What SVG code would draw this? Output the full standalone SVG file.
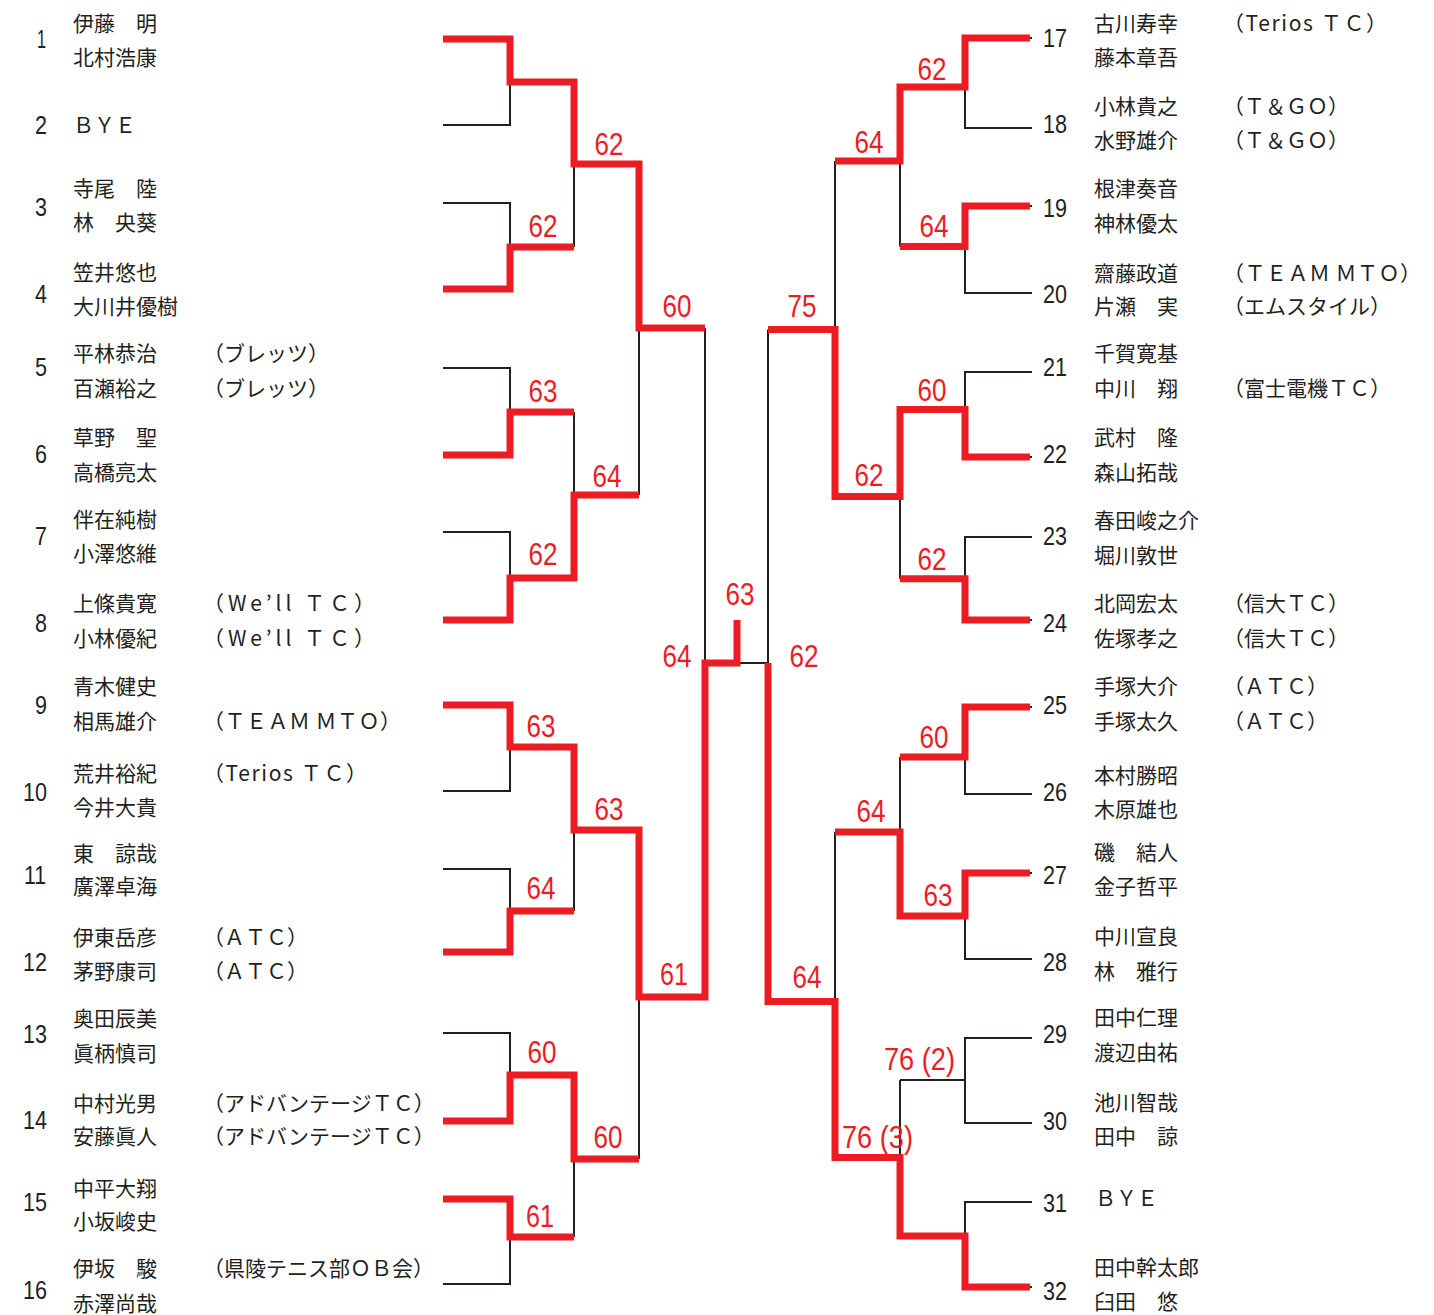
<svg xmlns="http://www.w3.org/2000/svg" width="1434" height="1315" viewBox="0 0 1434 1315">
<style>
.n{font-family:"Liberation Sans Narrow","Arial Narrow","Liberation Sans",sans-serif;font-size:26px;fill:#231f20}
.nl{text-anchor:end}
.nm{font-family:"Noto Sans CJK JP","Noto Sans CJK SC",sans-serif;font-size:21px;fill:#231f20}
.sc{font-family:"Liberation Sans Narrow","Arial Narrow","Liberation Sans",sans-serif;font-size:32px;fill:#ec1c24;text-anchor:middle}
.bk{fill:none;stroke:#231f20;stroke-width:2}
.rd{fill:none;stroke:#ec1c24;stroke-width:7;stroke-linejoin:miter}
</style>
<rect width="1434" height="1315" fill="#ffffff"/>
<g id="connectors">
<path class="bk" d="M443,39H510V125H443M510,82H574M443,203H510V289H443M510,247H574M443,368H510V455H443M510,412H574M443,532H510V620H443M510,578H574M443,705H510V791H443M510,747H574M443,869H510V952H443M510,911H574M443,1033H510V1121H443M510,1075H574M443,1199H510V1284H443M510,1237H574"/>
<path class="bk" d="M574,82V247M574,164H639M574,412V578M574,495H639M574,747V911M574,830H639M574,1075V1237M574,1159H639M639,164V495M639,328H705M639,830V1159M639,997H705M705,328V997M705,663H768"/>
<path class="bk" d="M1032,38H965V128H1032M965,87H900M1032,206H965V293H1032M965,246.5H900M1032,372H965V457H1032M965,409.5H900M1032,537H965V620H1032M965,578.7H900M1032,707H965V794H1032M965,757H900M1032,873H965V959H1032M965,916H900M1032,1038H965V1123H1032M965,1080H900M1032,1202H965V1287H1032M965,1236H900"/>
<path class="bk" d="M900,87V246.5M900,161H835M900,409.5V578.7M900,496.5H835M900,757V916M900,832H835M900,1080V1236M900,1157.5H835M835,161V496.5M835,329.5H768M835,832V1157.5M835,1001.5H768M768,329.5V1001.5"/>
<path class="rd" d="M443,39H510V82H574V164H639V328H705"/>
<path class="rd" d="M443,289H510V247H574"/>
<path class="rd" d="M443,455H510V412H574"/>
<path class="rd" d="M443,620H510V578H574V495H639"/>
<path class="rd" d="M443,705H510V747H574V830H639V997H705V663H737V620"/>
<path class="rd" d="M443,952H510V911H574"/>
<path class="rd" d="M443,1121H510V1075H574V1159H639"/>
<path class="rd" d="M443,1199H510V1237H574"/>
<path class="rd" d="M1030,38H965V87H900V161H835"/>
<path class="rd" d="M1030,206H965V246.5H900"/>
<path class="rd" d="M1030,457H965V409.5H900V496.5H835V329.5H768"/>
<path class="rd" d="M1030,620H965V578.7H900"/>
<path class="rd" d="M1030,707H965V757H900"/>
<path class="rd" d="M1030,873H965V916H900V832H835"/>
<path class="rd" d="M1030,1287H965V1236H900V1157.5H835V1001.5H768V663"/>
</g>
<g id="scores">
<text class="sc" x="543" y="237" textLength="29" lengthAdjust="spacingAndGlyphs">62</text>
<text class="sc" x="609" y="155" textLength="29" lengthAdjust="spacingAndGlyphs">62</text>
<text class="sc" x="677" y="317" textLength="29" lengthAdjust="spacingAndGlyphs">60</text>
<text class="sc" x="543" y="402" textLength="29" lengthAdjust="spacingAndGlyphs">63</text>
<text class="sc" x="607" y="487" textLength="29" lengthAdjust="spacingAndGlyphs">64</text>
<text class="sc" x="543" y="565" textLength="29" lengthAdjust="spacingAndGlyphs">62</text>
<text class="sc" x="677" y="667" textLength="29" lengthAdjust="spacingAndGlyphs">64</text>
<text class="sc" x="740" y="605" textLength="29" lengthAdjust="spacingAndGlyphs">63</text>
<text class="sc" x="541" y="737" textLength="29" lengthAdjust="spacingAndGlyphs">63</text>
<text class="sc" x="609" y="820" textLength="29" lengthAdjust="spacingAndGlyphs">63</text>
<text class="sc" x="541" y="899" textLength="29" lengthAdjust="spacingAndGlyphs">64</text>
<text class="sc" x="674" y="985" textLength="28" lengthAdjust="spacingAndGlyphs">61</text>
<text class="sc" x="542" y="1063" textLength="29" lengthAdjust="spacingAndGlyphs">60</text>
<text class="sc" x="608" y="1148" textLength="29" lengthAdjust="spacingAndGlyphs">60</text>
<text class="sc" x="540" y="1227" textLength="28" lengthAdjust="spacingAndGlyphs">61</text>
<text class="sc" x="804" y="667" textLength="29" lengthAdjust="spacingAndGlyphs">62</text>
<text class="sc" x="932" y="80" textLength="29" lengthAdjust="spacingAndGlyphs">62</text>
<text class="sc" x="869" y="153" textLength="29" lengthAdjust="spacingAndGlyphs">64</text>
<text class="sc" x="934" y="237" textLength="29" lengthAdjust="spacingAndGlyphs">64</text>
<text class="sc" x="802" y="317" textLength="29" lengthAdjust="spacingAndGlyphs">75</text>
<text class="sc" x="932" y="401" textLength="29" lengthAdjust="spacingAndGlyphs">60</text>
<text class="sc" x="869" y="486" textLength="29" lengthAdjust="spacingAndGlyphs">62</text>
<text class="sc" x="932" y="570" textLength="29" lengthAdjust="spacingAndGlyphs">62</text>
<text class="sc" x="934" y="748" textLength="29" lengthAdjust="spacingAndGlyphs">60</text>
<text class="sc" x="871" y="822" textLength="29" lengthAdjust="spacingAndGlyphs">64</text>
<text class="sc" x="938" y="906" textLength="29" lengthAdjust="spacingAndGlyphs">63</text>
<text class="sc" x="807" y="988" textLength="29" lengthAdjust="spacingAndGlyphs">64</text>
<text class="sc" x="919.5" y="1070" textLength="71" lengthAdjust="spacingAndGlyphs">76 (2)</text>
<text class="sc" x="877.5" y="1148" textLength="71" lengthAdjust="spacingAndGlyphs">76 (3)</text>
</g>
<g id="p1"><text class="n nl" x="46" y="47.5" textLength="9" lengthAdjust="spacingAndGlyphs">1</text><text class="nm" x="73" y="31">伊藤　明</text><text class="nm" x="73" y="65">北村浩康</text></g>
<g id="p2"><text class="n nl" x="47" y="133.5" textLength="12" lengthAdjust="spacingAndGlyphs">2</text><text class="nm" x="73" y="133">ＢＹＥ</text></g>
<g id="p3"><text class="n nl" x="47" y="215.5" textLength="12" lengthAdjust="spacingAndGlyphs">3</text><text class="nm" x="73" y="196">寺尾　陸</text><text class="nm" x="73" y="230">林　央葵</text></g>
<g id="p4"><text class="n nl" x="47" y="302.5" textLength="12" lengthAdjust="spacingAndGlyphs">4</text><text class="nm" x="73" y="280">笠井悠也</text><text class="nm" x="73" y="314">大川井優樹</text></g>
<g id="p5"><text class="n nl" x="47" y="375.5" textLength="12" lengthAdjust="spacingAndGlyphs">5</text><text class="nm" x="73" y="361">平林恭治</text><text class="nm" x="203" y="361">（ブレッツ）</text><text class="nm" x="73" y="396">百瀬裕之</text><text class="nm" x="203" y="396">（ブレッツ）</text></g>
<g id="p6"><text class="n nl" x="47" y="462.5" textLength="12" lengthAdjust="spacingAndGlyphs">6</text><text class="nm" x="73" y="445">草野　聖</text><text class="nm" x="73" y="480">高橋亮太</text></g>
<g id="p7"><text class="n nl" x="47" y="544.5" textLength="12" lengthAdjust="spacingAndGlyphs">7</text><text class="nm" x="73" y="527">伴在純樹</text><text class="nm" x="73" y="561">小澤悠維</text></g>
<g id="p8"><text class="n nl" x="47" y="631.5" textLength="12" lengthAdjust="spacingAndGlyphs">8</text><text class="nm" x="73" y="611">上條貴寛</text><text class="nm" x="203" y="611" textLength="172">（We’ll ＴＣ）</text><text class="nm" x="73" y="646">小林優紀</text><text class="nm" x="203" y="646" textLength="172">（We’ll ＴＣ）</text></g>
<g id="p9"><text class="n nl" x="47" y="713.5" textLength="12" lengthAdjust="spacingAndGlyphs">9</text><text class="nm" x="73" y="694">青木健史</text><text class="nm" x="73" y="729">相馬雄介</text><text class="nm" x="203" y="729" textLength="198">（ＴＥＡＭ ＭＴＯ）</text></g>
<g id="p10"><text class="n nl" x="47" y="800.5" textLength="24" lengthAdjust="spacingAndGlyphs">10</text><text class="nm" x="73" y="781">荒井裕紀</text><text class="nm" x="203" y="781" textLength="164">（Terios ＴＣ）</text><text class="nm" x="73" y="815">今井大貴</text></g>
<g id="p11"><text class="n nl" x="46" y="883.5" textLength="22" lengthAdjust="spacingAndGlyphs">11</text><text class="nm" x="73" y="861">東　諒哉</text><text class="nm" x="73" y="894">廣澤卓海</text></g>
<g id="p12"><text class="n nl" x="47" y="970.5" textLength="24" lengthAdjust="spacingAndGlyphs">12</text><text class="nm" x="73" y="945">伊東岳彦</text><text class="nm" x="203" y="945">（ＡＴＣ）</text><text class="nm" x="73" y="979">茅野康司</text><text class="nm" x="203" y="979">（ＡＴＣ）</text></g>
<g id="p13"><text class="n nl" x="47" y="1042.5" textLength="24" lengthAdjust="spacingAndGlyphs">13</text><text class="nm" x="73" y="1026">奥田辰美</text><text class="nm" x="73" y="1061">眞柄慎司</text></g>
<g id="p14"><text class="n nl" x="47" y="1128.5" textLength="24" lengthAdjust="spacingAndGlyphs">14</text><text class="nm" x="73" y="1111">中村光男</text><text class="nm" x="203" y="1111">（アドバンテージＴＣ）</text><text class="nm" x="73" y="1144">安藤眞人</text><text class="nm" x="203" y="1144">（アドバンテージＴＣ）</text></g>
<g id="p15"><text class="n nl" x="47" y="1210.5" textLength="24" lengthAdjust="spacingAndGlyphs">15</text><text class="nm" x="73" y="1196">中平大翔</text><text class="nm" x="73" y="1229">小坂峻史</text></g>
<g id="p16"><text class="n nl" x="47" y="1298.5" textLength="24" lengthAdjust="spacingAndGlyphs">16</text><text class="nm" x="73" y="1276">伊坂　駿</text><text class="nm" x="203" y="1276">（県陵テニス部ＯＢ会）</text><text class="nm" x="73" y="1311">赤澤尚哉</text></g>
<g id="p17"><text class="n" x="1043" y="47" textLength="24" lengthAdjust="spacingAndGlyphs">17</text><text class="nm" x="1094" y="31">古川寿幸</text><text class="nm" x="1223" y="31" textLength="164">（Terios ＴＣ）</text><text class="nm" x="1094" y="65">藤本章吾</text></g>
<g id="p18"><text class="n" x="1043" y="132.5" textLength="24" lengthAdjust="spacingAndGlyphs">18</text><text class="nm" x="1094" y="114">小林貴之</text><text class="nm" x="1223" y="114">（Ｔ＆ＧＯ）</text><text class="nm" x="1094" y="148">水野雄介</text><text class="nm" x="1223" y="148">（Ｔ＆ＧＯ）</text></g>
<g id="p19"><text class="n" x="1043" y="216.5" textLength="24" lengthAdjust="spacingAndGlyphs">19</text><text class="nm" x="1094" y="196">根津奏音</text><text class="nm" x="1094" y="231">神林優太</text></g>
<g id="p20"><text class="n" x="1043" y="302.5" textLength="24" lengthAdjust="spacingAndGlyphs">20</text><text class="nm" x="1094" y="281">齋藤政道</text><text class="nm" x="1223" y="281" textLength="198">（ＴＥＡＭ ＭＴＯ）</text><text class="nm" x="1094" y="314">片瀬　実</text><text class="nm" x="1223" y="314">（エムスタイル）</text></g>
<g id="p21"><text class="n" x="1043" y="375.5" textLength="24" lengthAdjust="spacingAndGlyphs">21</text><text class="nm" x="1094" y="361">千賀寛基</text><text class="nm" x="1094" y="396">中川　翔</text><text class="nm" x="1223" y="396">（富士電機ＴＣ）</text></g>
<g id="p22"><text class="n" x="1043" y="462.5" textLength="24" lengthAdjust="spacingAndGlyphs">22</text><text class="nm" x="1094" y="445">武村　隆</text><text class="nm" x="1094" y="480">森山拓哉</text></g>
<g id="p23"><text class="n" x="1043" y="544.5" textLength="24" lengthAdjust="spacingAndGlyphs">23</text><text class="nm" x="1094" y="528">春田峻之介</text><text class="nm" x="1094" y="563">堀川敦世</text></g>
<g id="p24"><text class="n" x="1043" y="631.5" textLength="24" lengthAdjust="spacingAndGlyphs">24</text><text class="nm" x="1094" y="611">北岡宏太</text><text class="nm" x="1223" y="611">（信大ＴＣ）</text><text class="nm" x="1094" y="646">佐塚孝之</text><text class="nm" x="1223" y="646">（信大ＴＣ）</text></g>
<g id="p25"><text class="n" x="1043" y="713.5" textLength="24" lengthAdjust="spacingAndGlyphs">25</text><text class="nm" x="1094" y="694">手塚大介</text><text class="nm" x="1223" y="694">（ＡＴＣ）</text><text class="nm" x="1094" y="729">手塚太久</text><text class="nm" x="1223" y="729">（ＡＴＣ）</text></g>
<g id="p26"><text class="n" x="1043" y="800.5" textLength="24" lengthAdjust="spacingAndGlyphs">26</text><text class="nm" x="1094" y="783">本村勝昭</text><text class="nm" x="1094" y="817">木原雄也</text></g>
<g id="p27"><text class="n" x="1043" y="883.5" textLength="24" lengthAdjust="spacingAndGlyphs">27</text><text class="nm" x="1094" y="860">磯　結人</text><text class="nm" x="1094" y="894">金子哲平</text></g>
<g id="p28"><text class="n" x="1043" y="970.5" textLength="24" lengthAdjust="spacingAndGlyphs">28</text><text class="nm" x="1094" y="944">中川宣良</text><text class="nm" x="1094" y="979">林　雅行</text></g>
<g id="p29"><text class="n" x="1043" y="1042.5" textLength="24" lengthAdjust="spacingAndGlyphs">29</text><text class="nm" x="1094" y="1025">田中仁理</text><text class="nm" x="1094" y="1060">渡辺由祐</text></g>
<g id="p30"><text class="n" x="1043" y="1129.5" textLength="24" lengthAdjust="spacingAndGlyphs">30</text><text class="nm" x="1094" y="1110">池川智哉</text><text class="nm" x="1094" y="1144">田中　諒</text></g>
<g id="p31"><text class="n" x="1043" y="1211.5" textLength="24" lengthAdjust="spacingAndGlyphs">31</text><text class="nm" x="1095" y="1206">ＢＹＥ</text></g>
<g id="p32"><text class="n" x="1043" y="1299.5" textLength="24" lengthAdjust="spacingAndGlyphs">32</text><text class="nm" x="1094" y="1275">田中幹太郎</text><text class="nm" x="1094" y="1309">臼田　悠</text></g>
</svg>
